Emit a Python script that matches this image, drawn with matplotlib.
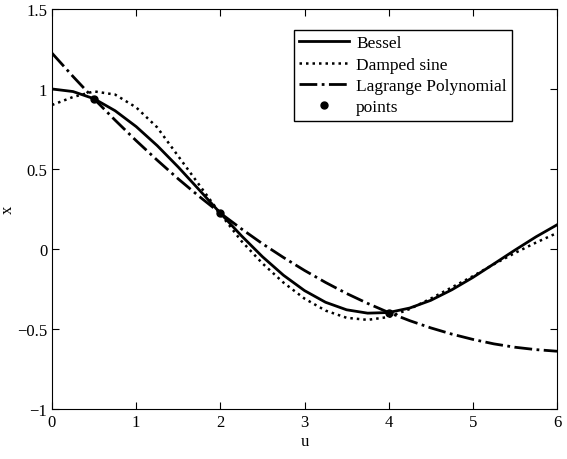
import matplotlib
matplotlib.use('Agg')
import matplotlib.pyplot as plt
import numpy as np

plt.rcParams['font.family'] = ['Liberation Serif', 'DejaVu Serif']
plt.rcParams['font.size'] = 12
plt.rcParams['axes.unicode_minus'] = True

# sample positions along u
u = np.arange(0, 6.01, 0.25)

# curves
bessel = [1.000, 0.984, 0.939, 0.864, 0.765, 0.646, 0.512, 0.369, 0.224,
          0.083, -0.048, -0.164, -0.260, -0.333, -0.380, -0.401, -0.397,
          -0.369, -0.321, -0.255, -0.178, -0.093, -0.007, 0.076, 0.151]
damped = [0.900, 0.950, 0.985, 0.965, 0.885, 0.760, 0.580, 0.400, 0.220,
          0.050, -0.090, -0.210, -0.310, -0.385, -0.430, -0.443, -0.425,
          -0.375, -0.310, -0.240, -0.170, -0.095, -0.025, 0.040, 0.100]
lagrange = [1.224, 1.078, 0.938, 0.805, 0.677, 0.555, 0.438, 0.328, 0.224,
            0.126, 0.033, -0.053, -0.134, -0.209, -0.278, -0.340, -0.397,
            -0.448, -0.493, -0.532, -0.565, -0.593, -0.614, -0.629, -0.639]

# interpolation nodes
pts_u = [0.5, 2.0, 4.0]
pts_x = [0.939, 0.224, -0.397]

fig = plt.figure(figsize=(5.67, 4.6), dpi=100)
ax = fig.add_axes([0.0917, 0.1087, 0.8907, 0.8696])

ax.plot(u, bessel, 'k-', lw=2.0, label='Bessel')
ax.plot(u, damped, color='k', ls=(0, (1, 1.6)), lw=1.8, label='Damped sine')
ax.plot(u, lagrange, 'k-.', lw=2.0, label='Lagrange Polynomial')
ax.plot(pts_u, pts_x, 'ko', ms=5, label='points')

ax.set_xlim(0, 6)
ax.set_ylim(-1, 1.5)
ax.set_xticks(range(7))
ax.set_yticks([-1, -0.5, 0, 0.5, 1, 1.5])
ax.set_yticklabels(['\u22121', '\u22120.5', '0', '0.5', '1', '1.5'])
ax.tick_params(direction='in', top=True, right=True, length=5, labelsize=12)
ax.set_xlabel('u', labelpad=2)
ax.set_ylabel('x', labelpad=1)

leg = ax.legend(loc='upper right', bbox_to_anchor=(0.911, 0.9475),
                borderaxespad=0, fancybox=False, edgecolor='black',
                framealpha=1, handlelength=2.9, handletextpad=0.4,
                labelspacing=0.3, borderpad=0.3, fontsize=12.5)
leg.get_frame().set_linewidth(1.0)

fig.savefig('out.png', dpi=100)
